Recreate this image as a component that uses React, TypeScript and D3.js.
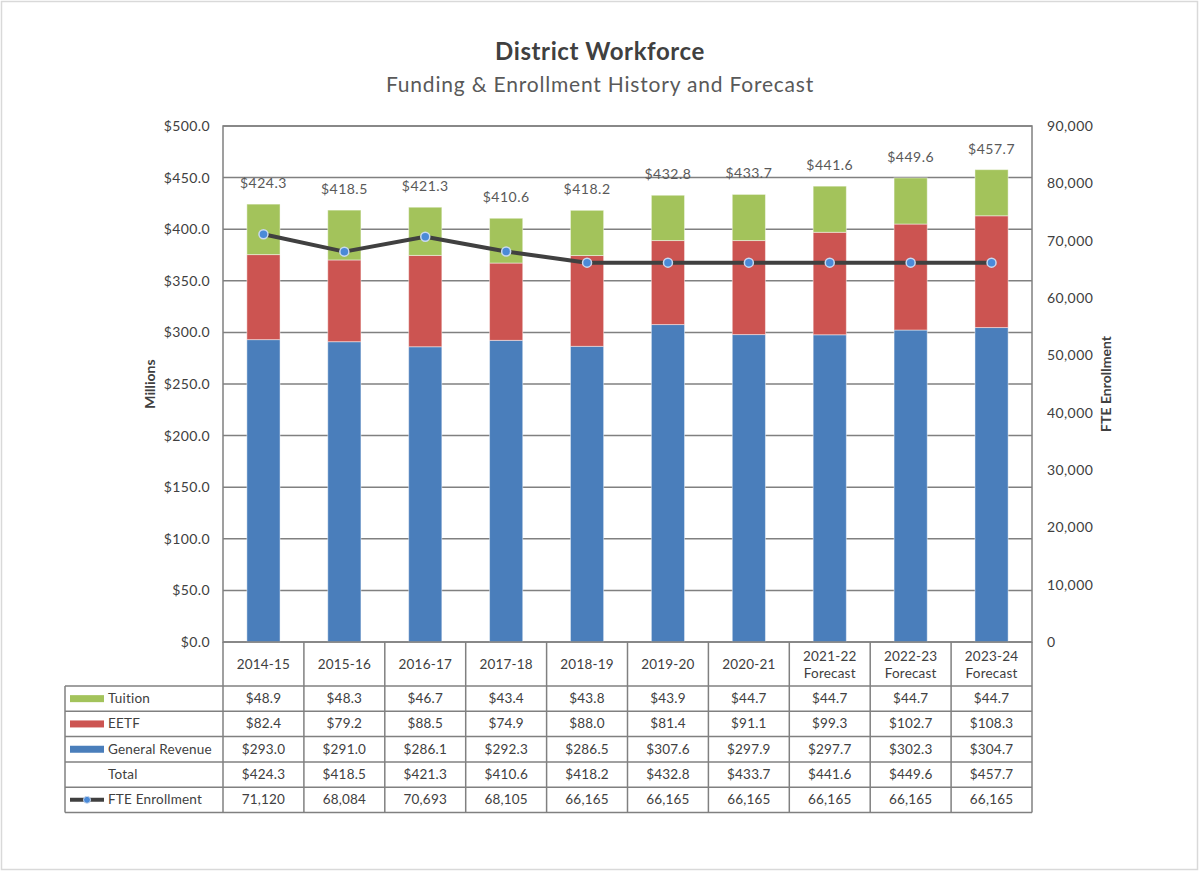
import { useRef, useEffect } from "react";
import { select, scaleBand, scaleLinear, line, format, range } from "d3";

const categories = ["2014-15", "2015-16", "2016-17", "2017-18", "2018-19", "2019-20", "2020-21", "2021-22 Forecast", "2022-23 Forecast", "2023-24 Forecast"];
const tuition = [48.9, 48.3, 46.7, 43.4, 43.8, 43.9, 44.7, 44.7, 44.7, 44.7];
const eetf = [82.4, 79.2, 88.5, 74.9, 88.0, 81.4, 91.1, 99.3, 102.7, 108.3];
const generalRevenue = [293.0, 291.0, 286.1, 292.3, 286.5, 307.6, 297.9, 297.7, 302.3, 304.7];
const totals = [424.3, 418.5, 421.3, 410.6, 418.2, 432.8, 433.7, 441.6, 449.6, 457.7];
const enrollment = [71120, 68084, 70693, 68105, 66165, 66165, 66165, 66165, 66165, 66165];
const leftTicks = [0, 50, 100, 150, 200, 250, 300, 350, 400, 450, 500];
const rightTicks = [0, 10000, 20000, 30000, 40000, 50000, 60000, 70000, 80000, 90000];

const W = 1199;
const H = 871;
const plot = { left: 223, right: 1032, top: 126, bottom: 642 };
const tableLeft = 65;
const headerBottom = 686;
const rowH = 25.3;
const colors = { tuition: "#a3c35b", eetf: "#cc5451", general: "#4a7ebb", line: "#404040", dot: "#4a8ad8" };
const FONT = "Lato, 'Open Sans', sans-serif";
const TEXT = "#404040";

function App() {
  const svgRef = useRef(null);

  useEffect(() => {
    const svg = select(svgRef.current);
    svg.selectAll("*").remove();

    svg.append("rect").attr("x", 1.5).attr("y", 1.5).attr("width", W - 3).attr("height", H - 3)
      .attr("fill", "white").attr("stroke", "#d9d9d9").attr("stroke-width", 1.5);

    // titles
    svg.append("text").attr("x", 600).attr("y", 60).attr("text-anchor", "middle")
      .style("font-size", "24px").style("letter-spacing", "0.6px").style("font-weight", "bold")
      .style("fill", "#404040").text("District Workforce");
    svg.append("text").attr("x", 600).attr("y", 92).attr("text-anchor", "middle")
      .style("font-size", "21px").style("letter-spacing", "0.8px").style("fill", "#595959")
      .text("Funding & Enrollment History and Forecast");

    const x = scaleBand().domain(categories).range([plot.left, plot.right]);
    const yL = scaleLinear().domain([0, 500]).range([plot.bottom, plot.top]);
    const yR = scaleLinear().domain([0, 90000]).range([plot.bottom, plot.top]);
    const bw = x.bandwidth() * 0.41;
    const cx = (c) => x(c) + x.bandwidth() / 2;

    // gridlines
    const grid = svg.append("g");
    grid.selectAll("line").data(leftTicks).join("line")
      .attr("x1", plot.left).attr("x2", plot.right)
      .attr("y1", d => yL(d)).attr("y2", d => yL(d))
      .attr("stroke", "#808080").attr("stroke-width", 1.5);

    // left axis labels
    svg.append("g").selectAll("text").data(leftTicks).join("text")
      .attr("x", 210).attr("y", d => yL(d) + 5).attr("text-anchor", "end")
      .style("font-size", "14px").style("letter-spacing", "0.4px").style("fill", TEXT)
      .text(d => "$" + format(".1f")(d));
    // right axis labels
    svg.append("g").selectAll("text").data(rightTicks).join("text")
      .attr("x", 1047).attr("y", d => yR(d) + 5).attr("text-anchor", "start")
      .style("font-size", "14px").style("letter-spacing", "0.4px").style("fill", TEXT)
      .text(d => format(",")(d));

    svg.append("text").attr("transform", `translate(155, ${(plot.top + plot.bottom) / 2}) rotate(-90)`)
      .attr("text-anchor", "middle").style("font-size", "14px").style("font-weight", "bold").style("fill", TEXT).text("Millions");
    svg.append("text").attr("transform", `translate(1111, ${(plot.top + plot.bottom) / 2}) rotate(-90)`)
      .attr("text-anchor", "middle").style("font-size", "14px").style("font-weight", "bold").style("fill", TEXT).text("FTE Enrollment");

    // stacked bars
    const stacks = categories.map((c, i) => {
      const g0 = generalRevenue[i];
      const e0 = g0 + eetf[i];
      return [
        { c, y0: 0, y1: g0, fill: colors.general },
        { c, y0: g0, y1: e0, fill: colors.eetf },
        { c, y0: e0, y1: e0 + tuition[i], fill: colors.tuition },
      ];
    }).flat();
    svg.append("g").selectAll("rect").data(stacks).join("rect")
      .attr("x", d => cx(d.c) - bw / 2).attr("width", bw)
      .attr("y", d => yL(d.y1)).attr("height", d => yL(d.y0) - yL(d.y1))
      .attr("fill", d => d.fill).attr("stroke", "rgba(255,255,255,0.45)").attr("stroke-width", 1);

    // total labels
    svg.append("g").selectAll("text").data(categories).join("text")
      .attr("x", d => cx(d)).attr("y", (d, i) => yL(totals[i]) - 16).attr("text-anchor", "middle")
      .style("font-size", "14px").style("letter-spacing", "0.5px").style("fill", "#595959")
      .text((d, i) => "$" + format(".1f")(totals[i]));

    // enrollment line
    const lineGen = line().x((d, i) => cx(categories[i])).y(d => yR(d));
    svg.append("path").attr("d", lineGen(enrollment)).attr("fill", "none")
      .attr("stroke", colors.line).attr("stroke-width", 4).attr("stroke-linejoin", "round");
    svg.append("g").selectAll("circle").data(enrollment).join("circle")
      .attr("cx", (d, i) => cx(categories[i])).attr("cy", d => yR(d)).attr("r", 4.5)
      .attr("fill", colors.dot).attr("stroke", "#c9d9ef").attr("stroke-width", 1.5);

    // plot border
    svg.append("rect").attr("x", plot.left).attr("y", plot.top)
      .attr("width", plot.right - plot.left).attr("height", plot.bottom - plot.top)
      .attr("fill", "none").attr("stroke", "#808080").attr("stroke-width", 1.5);

    // data table
    const table = svg.append("g");
    const tableBottom = headerBottom + rowH * 5;
    const edges = categories.map(c => x(c)).concat([plot.right]);
    table.selectAll(".vcol").data(edges).join("line").attr("class", "vcol")
      .attr("x1", d => d).attr("x2", d => d).attr("y1", plot.bottom).attr("y2", tableBottom)
      .attr("stroke", "#808080").attr("stroke-width", 1.5);
    table.append("line").attr("x1", tableLeft).attr("x2", tableLeft).attr("y1", headerBottom).attr("y2", tableBottom)
      .attr("stroke", "#808080").attr("stroke-width", 1.5);
    table.selectAll(".hrow").data(range(6)).join("line").attr("class", "hrow")
      .attr("x1", tableLeft).attr("x2", plot.right)
      .attr("y1", i => headerBottom + i * rowH).attr("y2", i => headerBottom + i * rowH)
      .attr("stroke", "#808080").attr("stroke-width", 1.5);

    // header categories
    table.selectAll(".hdr").data(categories).join("text").attr("class", "hdr")
      .attr("x", d => cx(d)).attr("text-anchor", "middle")
      .style("font-size", "13.5px").style("letter-spacing", "0.2px").style("fill", TEXT)
      .each(function (d) {
        const parts = d.split(" ");
        const t = select(this);
        if (parts.length === 1) {
          t.attr("y", (plot.bottom + headerBottom) / 2 + 5).text(d);
        } else {
          t.attr("y", plot.bottom + 19);
          t.append("tspan").attr("x", cx(d)).text(parts[0]);
          t.append("tspan").attr("x", cx(d)).attr("dy", 17).text(parts[1]);
        }
      });

    const rows = [
      { name: "Tuition", values: tuition.map(v => "$" + format(".1f")(v)), key: colors.tuition },
      { name: "EETF", values: eetf.map(v => "$" + format(".1f")(v)), key: colors.eetf },
      { name: "General Revenue", values: generalRevenue.map(v => "$" + format(".1f")(v)), key: colors.general },
      { name: "Total", values: totals.map(v => "$" + format(".1f")(v)), key: null },
      { name: "FTE Enrollment", values: enrollment.map(v => format(",")(v)), key: "line" },
    ];
    rows.forEach((r, ri) => {
      const midY = headerBottom + ri * rowH + rowH / 2;
      table.append("text").attr("x", 108).attr("y", midY + 4.5)
        .style("font-size", "13.5px").style("letter-spacing", "0.2px").style("fill", TEXT).text(r.name);
      if (r.key === "line") {
        table.append("line").attr("x1", 70).attr("x2", 104).attr("y1", midY).attr("y2", midY)
          .attr("stroke", colors.line).attr("stroke-width", 4);
        table.append("circle").attr("cx", 87).attr("cy", midY).attr("r", 3.5)
          .attr("fill", colors.dot).attr("stroke", "#c9d9ef").attr("stroke-width", 1);
      } else if (r.key) {
        table.append("rect").attr("x", 70).attr("y", midY - 3.5).attr("width", 34).attr("height", 7)
          .attr("fill", r.key);
      }
      table.selectAll(".v" + ri).data(r.values).join("text").attr("class", "v" + ri)
        .attr("x", (d, i) => cx(categories[i])).attr("y", midY + 4.5).attr("text-anchor", "middle")
        .style("font-size", "13.5px").style("letter-spacing", "0.2px").style("fill", TEXT).text(d => d);
    });
  }, []);

  return (
    <div style={{ position: "absolute", left: 0, top: 0 }}>
      <svg ref={svgRef} width={W} height={H} style={{ display: "block", fontFamily: FONT }} />
    </div>
  );
}

export default App;
